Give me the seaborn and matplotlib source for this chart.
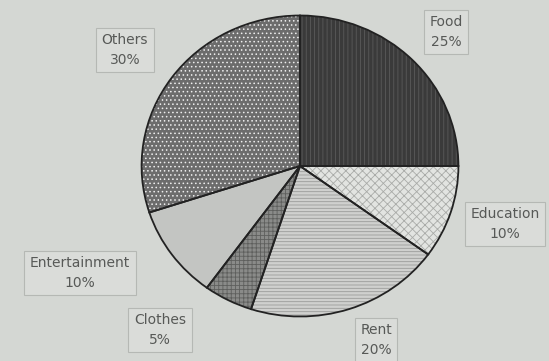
import matplotlib
matplotlib.use("Agg")
import matplotlib.pyplot as plt
import seaborn as sns

categories = ["Food", "Education", "Rent", "Clothes", "Entertainment", "Others"]
shares = [25, 10, 20, 5, 10, 30]
tick_labels = ["Food\n25%", "Education\n10%", "Rent\n20%", "Clothes\n5%",
               "Entertainment\n10%", "Others\n30%"]

sns.set_theme(style="white")
plt.rcParams["font.family"] = ["DejaVu Sans"]
plt.rcParams["hatch.linewidth"] = 0.6

bg = "#d4d7d3"
faces = ["#3a3a3a", "#e2e4e1", "#cfd0ce", "#8a8b89", "#c3c5c2", "#6c6c6c"]
hatch_cols = ["#5a5a5a", "#a9aba8", "#9b9c9a", "#5e5f5d", "#c3c5c2", "#eeeeee"]
hatches = ["||||", "xxxx", "-----", "++++", "", "...."]

fig = plt.figure(figsize=(5.49, 3.61), dpi=100, facecolor=bg)
ax = fig.add_axes([140 / 549, 1 - 318 / 361, 320 / 549, 304 / 361])
ax.set_facecolor(bg)

# filled wedges with hatching
wedges, _ = ax.pie(shares, startangle=90, counterclock=False,
                   colors=faces, wedgeprops=dict(linewidth=0))
for w, h, hc in zip(wedges, hatches, hatch_cols):
    w.set_hatch(h)
    w.set_edgecolor(hc)
    w.set_linewidth(0)

# outlines on top
outl, _ = ax.pie(shares, startangle=90, counterclock=False,
                 wedgeprops=dict(facecolor="none", edgecolor="#222222", linewidth=1.3))

ax.set_aspect("auto")
ax.set_xlim(-1.01, 1.01)
ax.set_ylim(-1.01, 1.01)
ax.axis("off")

# label boxes (pixel centres)
label_pos = [(446, 32), (505, 224), (376, 340), (160, 330), (80, 273), (125, 50)]
for txt, (px, py) in zip(tick_labels, label_pos):
    fig.text(px / 549, 1 - py / 361, txt, ha="center", va="center",
             fontsize=10, color="#575957", linespacing=1.5,
             bbox=dict(boxstyle="square,pad=0.4", facecolor="#dadcd9",
                       edgecolor="#b5b8b4", linewidth=0.8))

fig.savefig("out.png", dpi=100, facecolor=bg)
